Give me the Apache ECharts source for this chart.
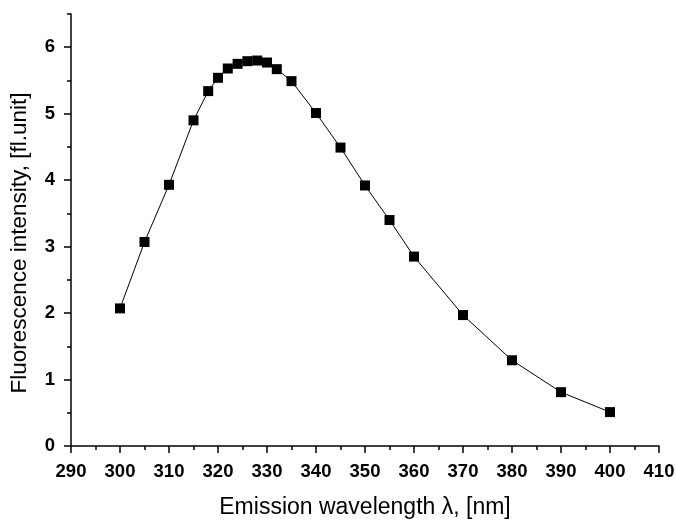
<!DOCTYPE html>
<html>
<head>
<meta charset="utf-8">
<script src="https://cdn.jsdelivr.net/npm/echarts@6/dist/echarts.min.js"></script>
<style>
  html, body { margin: 0; padding: 0; background: #fff; }
  #chart { width: 676px; height: 520px; }
</style>
</head>
<body>
<div id="chart"></div>
<script>
// emission spectrum
var wavelengths = [300, 305, 310, 315, 318, 320, 322, 324, 326, 328, 330, 332, 335, 340, 345, 350, 355, 360, 370, 380, 390, 400];
var intensities = [2.07, 3.07, 3.93, 4.90, 5.34, 5.54, 5.68, 5.75, 5.79, 5.80, 5.77, 5.67, 5.49, 5.01, 4.49, 3.92, 3.40, 2.85, 1.97, 1.29, 0.81, 0.51];
var yMajor = [0, 1, 2, 3, 4, 5, 6];
var yMinor = [0.5, 1.5, 2.5, 3.5, 4.5, 5.5, 6.5];

var pts = [];
for (var i = 0; i < wavelengths.length; i++) {
  pts.push([wavelengths[i], intensities[i]]);
}

var font = 'Liberation Sans, Arial, sans-serif';
var chart = echarts.init(document.getElementById('chart'));
chart.setOption({
  animation: false,
  grid: { left: 71, right: 17, top: 14, bottom: 74, outerBoundsMode: 'none', containLabel: false },
  xAxis: {
    type: 'value',
    min: 290, max: 410, interval: 10,
    name: 'Emission wavelength λ, [nm]',
    nameLocation: 'middle',
    nameGap: 50,
    nameTextStyle: { fontFamily: font, fontSize: 23, color: '#000' },
    axisLine: { lineStyle: { color: '#000', width: 1.5 } },
    axisTick: { length: 7, lineStyle: { color: '#000', width: 1.5 } },
    minorTick: { show: true, splitNumber: 2, length: 4, lineStyle: { color: '#000', width: 1.5 } },
    axisLabel: { margin: 16, color: '#000', fontFamily: font, fontSize: 18.5, fontWeight: 'bold' },
    splitLine: { show: false }
  },
  yAxis: [{
    type: 'value',
    min: 0, max: 6.5,
    name: 'Fluorescence intensity, [fl.unit]',
    nameLocation: 'middle',
    nameGap: 40,
    nameTextStyle: { fontFamily: font, fontSize: 22.5, color: '#000', padding: [0, 26, 0, 0] },
    axisLine: { show: true, lineStyle: { color: '#000', width: 1.5 } },
    axisTick: { show: true, length: 7, customValues: yMajor, lineStyle: { color: '#000', width: 1.5 } },
    axisLabel: { customValues: yMajor, margin: 16, color: '#000', fontFamily: font, fontSize: 18.5, fontWeight: 'bold' },
    splitLine: { show: false }
  }, {
    type: 'value',
    position: 'left',
    min: 0, max: 6.5,
    axisLine: { show: false },
    axisTick: { show: true, length: 4, customValues: yMinor, lineStyle: { color: '#000', width: 1.5 } },
    axisLabel: { show: false },
    splitLine: { show: false }
  }],
  series: [{
    type: 'line',
    yAxisIndex: 0,
    data: pts,
    symbol: 'rect',
    symbolSize: 10,
    itemStyle: { color: '#000' },
    lineStyle: { color: '#000', width: 1 }
  }]
});
</script>
</body>
</html>
